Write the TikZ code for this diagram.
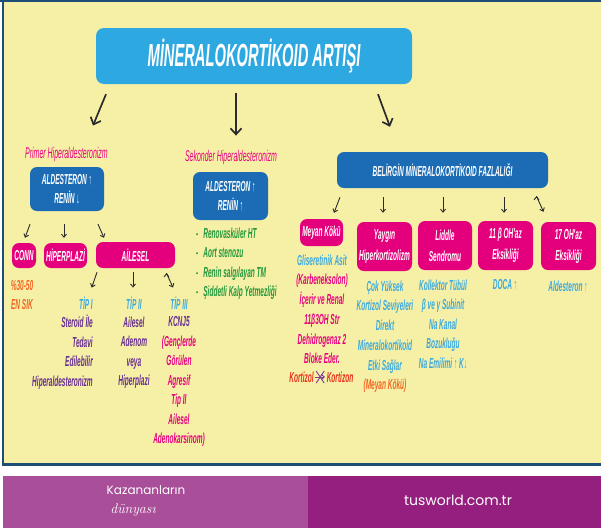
\documentclass[tikz,border=0pt]{standalone}
\usepackage{fontspec}
\newfontfamily\narrowfont{Liberation Sans}[FakeStretch=0.45]
\newfontfamily\titlefont{Liberation Sans}[FakeStretch=0.46]
\newfontfamily\footfont{Poppins}
\usetikzlibrary{arrows.meta,positioning,calc}

\definecolor{panelyellow}{HTML}{F6F0A7}
\definecolor{panelnavy}{HTML}{1E4D78}
\definecolor{titleblue}{HTML}{2EA8E1}
\definecolor{boxblue}{HTML}{1B6CB4}
\definecolor{boxpink}{HTML}{E4007C}
\definecolor{txtpink}{HTML}{E6007E}
\definecolor{txtblue}{HTML}{3AA9E0}
\definecolor{txtpurple}{HTML}{662D91}
\definecolor{txtgreen}{HTML}{23973B}
\definecolor{txtorange}{HTML}{F26522}
\definecolor{txtred}{HTML}{E5321A}
\definecolor{crossviolet}{HTML}{7D3C98}
\definecolor{arrowgray}{HTML}{2B2B2B}
\definecolor{footleft}{HTML}{A94E99}
\definecolor{footright}{HTML}{951F7E}

\begin{document}
\begin{tikzpicture}[x=1pt,y=-1pt,
  every node/.style={inner sep=0pt,font=\narrowfont\bfseries\itshape\fontsize{14.5}{19.5}\selectfont},
  titlebox/.style={fill=titleblue,text=white,rounded corners=8pt,font=\titlefont\bfseries\itshape\fontsize{32}{36}\selectfont},
  bluebox/.style={fill=boxblue,text=white,rounded corners=7pt,align=center},
  pinkbox/.style={fill=boxpink,text=white,rounded corners=7pt,align=center,font=\narrowfont\bfseries\itshape\fontsize{14.5}{21}\selectfont},
  headtxt/.style={text=txtpink,font=\narrowfont\itshape\fontsize{15.5}{17}\selectfont},
  textcol/.style={anchor=north,align=center},
  bigarrow/.style={draw=arrowgray,line width=1.7pt,-{Straight Barb[length=6pt,width=11pt]}},
  smallarrow/.style={draw=arrowgray,line width=0.9pt,-{Straight Barb[length=3pt,width=5pt]}},
  crossarrow/.style={draw=crossviolet,line width=0.9pt,-{Straight Barb[length=3pt,width=5pt]},shorten <=1.5pt,shorten >=1.5pt}]
\useasboundingbox (0,0) rectangle (601,528);
% panel and footer
\fill[white] (0,0) rectangle (601,528);
\fill[panelyellow] (3,2) rectangle (601,463);
\draw[panelnavy,line width=2.5pt] (0,1) -- (601,1);
\draw[panelnavy,line width=1.2pt] (3,1) -- (3,465);
\draw[panelnavy,line width=3pt] (2,464.5) -- (601,464.5);
\fill[footleft] (3,476) rectangle (308,528);
\fill[footright] (308,476) rectangle (601,528);
\node[text=white,font=\footfont\fontsize{12}{14}\selectfont] (kazanan) at (146,490) {Kazananların};
\node[text=white,font=\rmfamily\itshape\fontsize{14}{16}\selectfont] (dunya) at (133,510) {dünyası};
\node[text=white,font=\footfont\fontsize{14}{16}\selectfont] (site) at (458,500) {tusworld.com.tr};

% title and the three branches
\node[titlebox,minimum width=316pt,minimum height=56pt] (title) at (254,56) {MİNERALOKORTİKOID ARTIŞI};
\node[headtxt] (primlbl) at (66.5,154) {Primer Hiperaldesteronizm};
\node[headtxt] (sekonlbl) at (231,157) {Sekonder Hiperaldesteronizm};
\node[bluebox,minimum width=74pt,minimum height=44pt] (primbox) at (67,189) {ALDESTERON ↑\\RENİN ↓};
\node[bluebox,minimum width=75pt,minimum height=48pt] (sekonbox) at (230.5,196) {ALDESTERON ↑\\RENİN ↑};
\node[bluebox,minimum width=211pt,minimum height=36pt] (belirgin) at (442.5,170) {BELİRGİN MİNERALOKORTİKOID FAZLALIĞI};

% primer
\node[pinkbox,minimum width=24pt,minimum height=25pt] (conn) at (24,255.5) {CONN};
\node[pinkbox,minimum width=43pt,minimum height=25pt] (hiper) at (65.5,255.5) {HİPERPLAZİ};
\node[pinkbox,minimum width=79pt,minimum height=26pt] (ailesel) at (135.5,255) {AİLESEL};
\node[textcol,text=txtorange] (conntxt) at (22,280) {\%30-50\\EN SIK};
\node[text=txtblue,anchor=east] (tipone) at (93,303) {TİP I};
\node[text=txtblue] (tiptwo) at (134,303) {TİP II};
\node[text=txtblue] (tipthree) at (179,303) {TİP III};
\node[textcol,anchor=north east,align=right,text=txtpurple] (tiponetxt) at (93,315) {Steroid İle\\Tedavi\\Edilebilir\\Hiperaldesteronizm};
\node[textcol,text=txtpurple] (tiptwotxt) at (134,316.5) {Ailesel\\Adenom\\veya\\Hiperplazi};
\node[textcol,text=txtpink] (tipthreetxt) at (179,316.5) {{\color{txtpurple}KCNJ5}\\(Gençlerde\\Görülen\\Agresif\\Tip II\\Ailesel\\Adenokarsinom)};

% sekonder
\node[anchor=north west,align=left,text=txtgreen] (sekonlist) at (196,227.5) {-\hspace{5pt}Renovasküler HT\\-\hspace{5pt}Aort stenozu\\-\hspace{5pt}Renin salgılayan TM\\-\hspace{5pt}Şiddetli Kalp Yetmezliği};

% belirgin
\node[pinkbox,minimum width=43pt,minimum height=27pt] (meyan) at (321.5,232.5) {Meyan Kökü};
\node[pinkbox,minimum width=55pt,minimum height=49pt] (yaygin) at (384.5,246.5) {Yaygın\\Hiperkortizolizm};
\node[pinkbox,minimum width=54pt,minimum height=49pt] (liddle) at (445,245.5) {Liddle\\Sendromu};
\node[pinkbox,minimum width=55pt,minimum height=49pt] (onbir) at (505.5,245.5) {11 β OH'az\\Eksikliği};
\node[pinkbox,minimum width=55pt,minimum height=48pt] (onyedi) at (568.5,246) {17 OH'az\\Eksikliği};
\node[textcol,text=txtpink,font=\narrowfont\bfseries\itshape\fontsize{14.5}{19.7}\selectfont] (meyantxt) at (322,254.5) {{\color{txtblue}Gliseretinik Asit}\\(Karbeneksolon)\\İçerir ve Renal\\11β3OH Str\\Dehidrogenaz 2\\Bloke Eder.};
\node[text=txtred] (kortizol) at (301.5,377) {Kortizol};
\node[text=txtred] (kortizon) at (340,377) {Kortizon};
\node[textcol,text=txtblue,font=\narrowfont\bfseries\itshape\fontsize{14.5}{19.7}\selectfont] (yaygintxt) at (385,280.5) {Çok Yüksek\\Kortizol Seviyeleri\\Direkt\\Mineralokortikoid\\Etki Sağlar\\{\color{txtorange}(Meyan Kökü)}};
\node[textcol,text=txtblue] (liddletxt) at (443,279.5) {Kollektor Tübül\\β ve γ Subinit\\Na Kanal\\Bozukluğu\\Na Emilimi ↑ K↓};
\node[text=txtblue] (onbirtxt) at (505,285) {DOCA ↑};
\node[text=txtblue] (onyeditxt) at (568,286) {Aldesteron ↑};

% arrows
\draw[bigarrow] ([shift={(-148,10)}]title.south) -- ([shift={(26.5,-21)}]primlbl.north);
\draw[bigarrow] ([shift={(-18,9)}]title.south) -- ([shift={(5,-14)}]sekonlbl.north);
\draw[bigarrow] ([shift={(124,10)}]title.south) -- ([shift={(-52.5,-25)}]belirgin.north);
\path[smallarrow]
([shift={(-37,13)}]primbox.south) edge ([shift={(1,-5)}]conn.north)
([shift={(-3,13)}]primbox.south) edge ([shift={(-1.5,-5)}]hiper.north)
([shift={(31,13)}]primbox.south) edge ([shift={(-31.5,-4)}]ailesel.north)
([shift={(-38.5,4)}]ailesel.south) edge ([shift={(5.8,-9)}]tipone.north)
([shift={(-2.5,4)}]ailesel.south) edge ([shift={(-1,-9)}]tiptwo.north)
([shift={(31,5)}]ailesel.south) edge ([shift={(-6,-9)}]tipthree.north)
;
\path[smallarrow]
([shift={(-102.5,9)}]belirgin.south) edge ([shift={(12.5,-6)}]meyan.north)
([shift={(-59.5,9)}]belirgin.south) edge ([shift={(-1.5,-9)}]yaygin.north)
([shift={(0.5,9)}]belirgin.south) edge ([shift={(-2,-8)}]liddle.north)
([shift={(61.5,9)}]belirgin.south) edge ([shift={(-1.5,-8)}]onbir.north)
([shift={(94,8)}]belirgin.south) edge ([shift={(-25,-10)}]onyedi.north)
;
\draw[crossarrow] (kortizol) -- (kortizon) coordinate[midway] (blok);
\draw[crossviolet,line width=0.9pt] ([shift={(-4,-6)}]blok) -- ([shift={(4,6)}]blok) ([shift={(-4,6)}]blok) -- ([shift={(4,-6)}]blok);
\end{tikzpicture}
\end{document}
